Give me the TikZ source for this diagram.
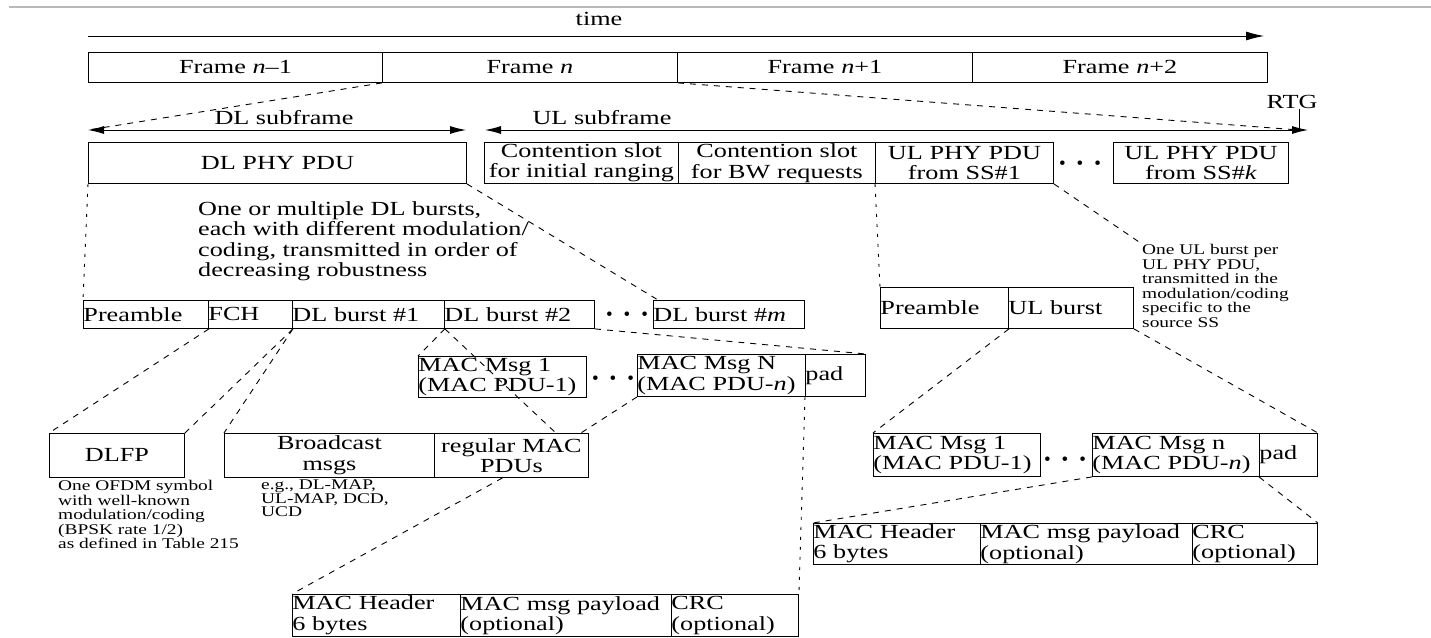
\documentclass[tikz,border=0pt]{standalone}
\usepackage{fontspec}
\setmainfont{Liberation Serif}[FakeStretch=1.31]
\newfontfamily\dotsfont{Liberation Serif}
\usetikzlibrary{arrows.meta,calc}
\newcommand{\bigtxt}{\fontsize{20}{20.5}\selectfont}
\newcommand{\smalltxt}{\fontsize{14.8}{14.6}\selectfont}
\begin{document}
\begin{tikzpicture}[x=1pt,y=-1pt,
  cell/.style={draw, line width=0.9pt, inner xsep=0pt, inner ysep=0pt, anchor=north west, font=\bigtxt},
  bx/.style 2 args={cell, minimum width=#1pt, text width=#1pt, minimum height=#2pt},
  lab/.style={inner sep=0pt, font=\bigtxt},
  note/.style={inner sep=0pt, anchor=north west, align=left, font=\smalltxt},
  dsh/.style={line width=0.9pt, dash pattern=on 6pt off 6pt},
  dtt/.style={line width=0.9pt, dash pattern=on 3pt off 7pt},
  arr/.style={line width=0.9pt},
  dots/.style={inner sep=0pt, font=\dotsfont\fontsize{19}{20}\selectfont}
]
\useasboundingbox (0,0) rectangle (1431,637);
% top border line
\coordinate (topL) at (9,7);
\coordinate (topR) at (1431,7);
\draw[gray!55, line width=2pt] (topL) -- (topR);

% time arrow
\node[lab] (time) at (599,19) {time};
\coordinate (tL) at (88,36);
\coordinate (tR) at (1264,36);
\draw[arr,-{Latex[length=18pt,width=9pt]}] (tL) -- (tR);

% frames
\node[bx={294}{30}, align=center] (f1) at (88,52) {Frame \textit{n}--1};
\node[bx={295}{30}, align=center] (f2) at (382,52) {Frame \textit{n}};
\node[bx={295}{30}, align=center] (f3) at (677,52) {Frame \textit{n}+1};
\node[bx={295}{30}, align=center] (f4) at (972,52) {Frame \textit{n}+2};

% subframe arrows
\coordinate (dlL) at (88,130);
\coordinate (dlR) at (466,130);
\coordinate (ulL) at (485,130);
\coordinate (ulR) at (1308,130);
\coordinate (rtgpt) at (1299,130);
\node[lab] (dllab) at (284,118) {DL subframe};
\node[lab] (ullab) at (602,118) {UL subframe};
\node[lab] (rtg) at (1292,102) {RTG};
\draw[arr,{Latex[length=16pt,width=8pt]}-{Latex[length=16pt,width=8pt]}] (dlL) -- (dlR);
\draw[arr,{Latex[length=16pt,width=8pt]}-{Latex[length=16pt,width=8pt]}] (ulL) -- (ulR);
\draw[arr] (rtgpt |- rtg.south) -- (rtgpt);
\draw[dsh] (f2.south west) -- (dlL);
\draw[dsh] (f2.south east) -- (rtgpt);

% PHY PDU row
\node[bx={378}{41}, align=center] (dlphy) at (88,142) {DL PHY PDU};
\node[bx={194}{41}, align=center] (cs1) at (484,142) {Contention slot\\for initial ranging};
\node[bx={197}{41}, align=center] (cs2) at (678,142) {Contention slot\\for BW requests};
\node[bx={178}{41}, align=center] (ul1) at (875,142) {UL PHY PDU\\from SS\#1};
\node[dots] (uldots) at (1080,165) {•\hspace{11pt}•\hspace{11pt}•};
\node[bx={175}{41}, align=center] (ulk) at (1113,142) {UL PHY PDU\\from SS\#\textit{k}};

% DL note
\node[note, font=\bigtxt] (dlnote) at (198,201) {One or multiple DL bursts,\\each with different modulation/\\coding, transmitted in order of\\decreasing robustness};

% DL burst row
\node[bx={125}{28}, align=left] (pre) at (83,300) {Preamble};
\node[bx={84}{28}, align=left] (fch) at (208,300) {FCH};
\node[bx={152}{28}, align=left] (b1) at (292,300) {DL burst \#1};
\node[bx={150}{28}, align=left] (b2) at (444,300) {DL burst \#2};
\node[dots] (dldots) at (627,316) {•\hspace{11pt}•\hspace{11pt}•};
\node[bx={151}{28}, align=left] (dlm) at (653,300) {DL burst \#\textit{m}};

% UL burst row
\node[bx={128}{41}, align=left] (upre) at (880,287) {Preamble};
\node[bx={125}{41}, align=left] (uburst) at (1008,287) {UL burst};
\node[note] (ulnote) at (1142,244) {One UL burst per\\UL PHY PDU,\\transmitted in the\\modulation/coding\\specific to the\\source SS};

% DL MAC msg row
\node[bx={168}{41}, align=left] (m1) at (418,356) {MAC Msg 1\\(MAC PDU-1)};
\node[dots] (mdots) at (613,380) {•\hspace{11pt}•\hspace{11pt}•};
\node[bx={168}{42}, align=left] (mN) at (637,354) {MAC Msg N\\(MAC PDU-\textit{n})};
\node[bx={60}{42}, align=left] (pad) at (805,354) {pad};

% DLFP row
\node[bx={135}{44}, align=center] (dlfp) at (49,433) {DLFP};
\node[bx={210}{44}, align=center] (bc) at (224,433) {Broadcast\\msgs};
\node[bx={154}{44}, align=center] (rmac) at (434,433) {regular MAC\\PDUs};
\node[note] (dlfpnote) at (58,480) {One OFDM symbol\\with well-known\\modulation/coding\\(BPSK rate 1/2)\\as defined in Table 215};
\node[note, font=\fontsize{14.8}{13.2}\selectfont] (bcnote) at (261,480) {e.g., DL-MAP,\\UL-MAP, DCD,\\UCD};

% DL MAC PDU row
\node[bx={168}{42}, align=left] (mh) at (292,594) {MAC Header\\6 bytes};
\node[bx={211}{42}, align=left] (pay) at (460,594) {MAC msg payload\\(optional)};
\node[bx={127}{42}, align=left] (crc) at (671,594) {CRC\\(optional)};

% UL MAC msg row
\node[bx={167}{43}, align=left] (rm1) at (873,433) {MAC Msg 1\\(MAC PDU-1)};
\node[dots] (rdots) at (1065,461) {•\hspace{11pt}•\hspace{11pt}•};
\node[bx={167}{43}, align=left] (rmn) at (1092,433) {MAC Msg n\\(MAC PDU-\textit{n})};
\node[bx={58}{43}, align=left] (rpad) at (1259,433) {pad};

% UL MAC PDU row
\node[bx={167}{41}, align=left] (rmh) at (813,523) {MAC Header\\6 bytes};
\node[bx={212}{41}, align=left] (rpay) at (980,523) {MAC msg payload\\(optional)};
\node[bx={125}{41}, align=left] (rcrc) at (1192,523) {CRC\\(optional)};

% connectors
\draw[dtt] (dlphy.south west) -- (pre.north west);
\draw[dsh] (dlphy.south east) -- ([xshift=5pt]dlm.north west);
\draw[dsh] (ul1.south east) -- (ulnote.north west);
\draw[dtt] (ul1.south west) -- (upre.north west);
\draw[dsh] (pre.south east) -- (dlfp.north west);
\draw[dsh] (fch.south east) -- (dlfp.north east);
\draw[dsh] (fch.south east) -- (bc.north west);
\draw[dsh] (b1.south east) -- (m1.north west);
\draw[dsh] (b1.south east) -- ([xshift=-33pt]rmac.north east);
\draw[dsh] (mN.south west) -- ([xshift=-8pt]rmac.north east);
\draw[dsh] (b2.south east) -- (pad.north east);
\draw[dtt] (pad.south west) -- (crc.north east);
\draw[dsh] ([xshift=-9pt]rmac.south) -- (mh.north west);
\draw[dsh] (upre.south east) -- (rm1.north west);
\draw[dsh] (uburst.south east) -- (rpad.north east);
\draw[dsh] (rmn.south west) -- (rmh.north west);
\draw[dsh] (rpad.south west) -- (rcrc.north east);
\end{tikzpicture}
\end{document}
